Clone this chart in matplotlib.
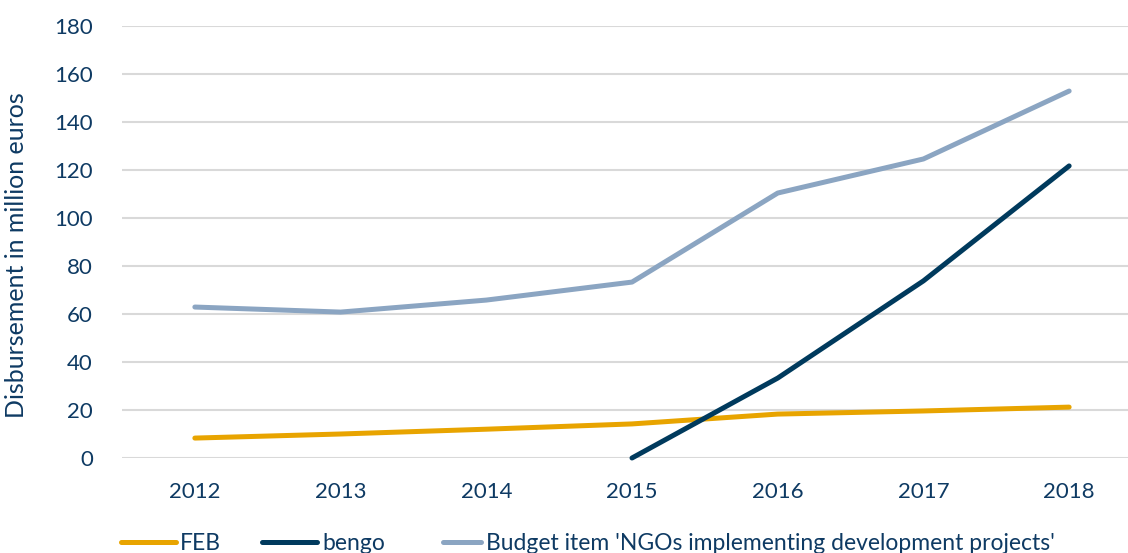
import matplotlib
matplotlib.use("Agg")
import matplotlib.pyplot as plt
from matplotlib.legend_handler import HandlerLine2D

years = [2012, 2013, 2014, 2015, 2016, 2017, 2018]
feb = [8.3, 10, 12, 14.2, 18.3, 19.6, 21.2]
bengo_years = [2015, 2016, 2017, 2018]
bengo = [0, 33.3, 73.8, 121.7]
budget = [62.9, 60.8, 65.8, 73.3, 110.4, 124.6, 152.9]
yticks = [0, 20, 40, 60, 80, 100, 120, 140, 160, 180]

txt = "#0E3A63"
plt.rcParams['font.family'] = ['Lato', 'DejaVu Sans']


class ShortLine(HandlerLine2D):
    # shorter handle, kept next to its text
    def create_artists(self, legend, orig_handle, xdescent, ydescent, width, height, fontsize, trans):
        cut = width * 0.3
        return super().create_artists(legend, orig_handle, xdescent - cut, ydescent,
                                      width - cut, height, fontsize, trans)


fig = plt.figure(figsize=(11.28, 5.53), dpi=100)
W, H = 1128, 553
ax = fig.add_axes([122 / W, 95 / H, 1020 / W, 432 / H])

xs = list(range(len(years)))
bx = [years.index(y) for y in bengo_years]
ax.plot(xs, feb, color="#E8A400", lw=3.6, solid_capstyle="round", label="FEB", clip_on=False)
ax.plot(bx, bengo, color="#003A5D", lw=3.6, solid_capstyle="round", label="bengo", clip_on=False)
l3, = ax.plot(xs, budget, color="#8BA5C2", lw=3.6, solid_capstyle="round",
              label="Budget item 'NGOs implementing development projects'", clip_on=False)

ax.set_xlim(-0.5, len(years) - 0.5)
ax.set_ylim(0, 180)
ax.set_yticks(yticks)
ax.set_xticks(xs)
ax.set_xticklabels([str(y) for y in years])
ax.grid(axis="y", color="#D9D9D9", lw=1.5)
ax.set_axisbelow(True)
for s in ax.spines.values():
    s.set_visible(False)
ax.tick_params(length=0, labelsize=16, colors=txt)
ax.tick_params(axis="x", pad=17)
ax.tick_params(axis="y", pad=21)
ax.set_ylabel("Disbursement in million euros", fontsize=18, color=txt, labelpad=10)
ax.yaxis.set_label_coords(-0.092, 0.47)

fig.legend(loc="lower left", bbox_to_anchor=(100 / W, -22 / H), ncol=3, frameon=False,
           fontsize=16.5, labelcolor=txt, handlelength=2.4, handletextpad=0.2,
           columnspacing=1.8, handler_map={l3: ShortLine()})

fig.savefig("out.png", dpi=100)
